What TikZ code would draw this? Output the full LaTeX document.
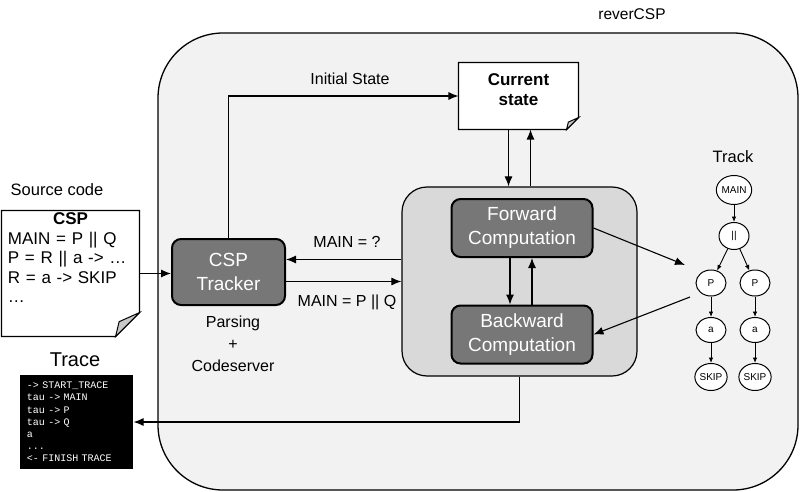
\documentclass[tikz,border=0pt]{standalone}
\usepackage{fontspec}
\setmainfont{Liberation Sans}
\setmonofont{Liberation Mono}
\usetikzlibrary{shapes.geometric,fit,arrows.meta}

\definecolor{shell}{HTML}{F2F2F2}
\definecolor{enginegray}{HTML}{D9D9D9}
\definecolor{modulegray}{HTML}{777777}
\definecolor{foldgray}{HTML}{C8C8C8}

\begin{document}
\begin{tikzpicture}[x=1pt,y=-1pt,line width=1.1pt,
	tip/.style={-{Latex[length=10pt,width=8pt]}},
	smalltip/.style={-{Latex[length=5.5pt,width=4.5pt]},line width=0.9pt},
	lbl/.style={font=\fontsize{16}{22}\selectfont,align=center,inner sep=0pt},
	paper/.style={fill=white,minimum width=#1,inner sep=0pt},
	module/.style={draw,line width=2pt,rounded corners=9pt,fill=modulegray,text=white,align=center,
		font=\fontsize{19}{24}\selectfont,minimum width=141pt,minimum height=58pt},
	tracknode/.style={ellipse,draw,fill=white,minimum width=30pt,minimum height=27pt,inner sep=0pt,
		line width=1pt,font=\fontsize{10}{10}\selectfont}]
\useasboundingbox (0,0) rectangle (800,492);

%the tool itself
\node[draw,fill=shell,rounded corners=65pt,minimum width=640pt,minimum height=457pt,line width=1.3pt] (tool) at (478,261.5) {};
\node[lbl,font=\fontsize{15.5}{18}\selectfont] (toolname) at (632,14) {reverCSP};

%source code on the left
\node[lbl,font=\fontsize{16.5}{20}\selectfont] (srclabel) at (57,190) {Source code};
\node[paper=137pt,minimum height=125pt] (src) at (70.5,273.5) {};

%current state on top
\node[paper=119pt,minimum height=66pt] (current) at (518.5,96) {};

%the paper corners
\foreach \n/\f/\bg in {src/24/white,current/12/shell}{
	\fill[\bg] ([yshift=\f pt]\n.south east) -- (\n.south east) -- ([xshift=-\f pt]\n.south east) -- cycle;
	\draw[line width=1.2pt] (\n.north west) -- (\n.north east) -- ([yshift=\f pt]\n.south east) -- ([xshift=-\f pt]\n.south east) -- (\n.south west) -- cycle;
	\filldraw[fill=foldgray,line width=1pt] ([yshift=\f pt]\n.south east) -- ([xshift=-0.85*\f pt,yshift=0.62*\f pt]\n.south east) -- ([xshift=-\f pt]\n.south east) -- cycle;
}
\node[anchor=north,align=left,text width=125pt,inner sep=0pt,font=\fontsize{17}{19.5}\selectfont] (srctext) at ([yshift=-2pt]src.north) {%
	\makebox[\linewidth]{\textbf{CSP}}\\
	MAIN = P || Q\\
	P = R || a -> \dots\\
	R = a -> SKIP\\
	\dots};
\node[lbl,font=\bfseries\fontsize{17}{20}\selectfont] (currenttext) at (518.5,90) {Current\\state};

%tracker and the two computations
\node[module,minimum width=113pt,minimum height=66pt] (tracker) at (228.5,272) {CSP\\Tracker};
\node[lbl] (parsing) at (233,344) {Parsing\\+\\Codeserver};
\node[draw,fill=enginegray,rounded corners=25pt,minimum width=235pt,minimum height=189pt,line width=1.2pt] (engine) at (519.5,281.5) {};
\node[module] (fwd) at (522,228) {Forward\\Computation};
\node[module] (bwd) at (522,334.5) {Backward\\Computation};

%trace at the bottom left
\node[lbl,font=\fontsize{20}{22}\selectfont] (tracelabel) at (75,360) {Trace};
\node[fill=black,text=white,minimum width=113pt,minimum height=94pt,text width=99pt,align=left,inner sep=0pt,
	font=\ttfamily\fontsize{10}{12.2}\selectfont] (trace) at (76.5,422) {%
	-> START\_TRACE\\
	tau -> MAIN\\
	tau -> P\\
	tau -> Q\\
	a\\
	...\\
	<- FINISH TRACE};

%the track tree on the right
\node[lbl,font=\fontsize{16.5}{18}\selectfont] (tracklabel) at (733,157) {Track};
\node[tracknode,minimum width=29pt,minimum height=29pt] (main) at (734,190) {MAIN};
\node[tracknode] (par) at (734,236) {||};
\foreach \x[count=\xi] in {711,755}{
	\node[tracknode,minimum height=26pt] (p\xi) at (\x,283) {P};
	\node[tracknode,minimum height=25pt] (a\xi) at (\x,330) {a};
	\node[tracknode] (skip\xi) at (\x,377) {SKIP};
}
\foreach \a/\b in {main/par,par/p1,par/p2,p1/a1,p2/a2,a1/skip1,a2/skip2}{
	\draw[smalltip] (\a) -- (\b);
}
\coordinate (trackin) at (685,265);
\coordinate (trackout) at (690,297);

%labels on the arrows
\node[lbl] (initlabel) at (350,79) {Initial State};
\node[lbl] (asklabel) at (347,242) {MAIN = ?};
\node[lbl] (answerlabel) at (347,302) {MAIN = P || Q};

%arrows
\draw[tip] (src.east) -- (src.east -| tracker.west);
\draw[tip] (tracker.north) |- (current.west);
\draw[tip] ([xshift=-10pt]current.south) -- ([xshift=-10pt]current.south |- engine.north);
\draw[tip] ([xshift=12pt]current.south |- engine.north) -- ([xshift=12pt]current.south);
\draw[tip] ([yshift=22pt]engine.west) -- ([yshift=22pt]engine.west -| tracker.east);
\draw[tip] (tracker.east |- engine.west) -- (engine.west);
\draw[tip] ([xshift=-12pt]fwd.south) -- ([xshift=-12pt]fwd.south |- bwd.north);
\draw[tip] ([xshift=10pt]fwd.south |- bwd.north) -- ([xshift=10pt]fwd.south);
\draw[tip] (fwd.east) -- (trackin);
\draw[tip] (trackout) -- (bwd.east);
\draw[tip] (engine.south) |- (trace.east);
\end{tikzpicture}
\end{document}
